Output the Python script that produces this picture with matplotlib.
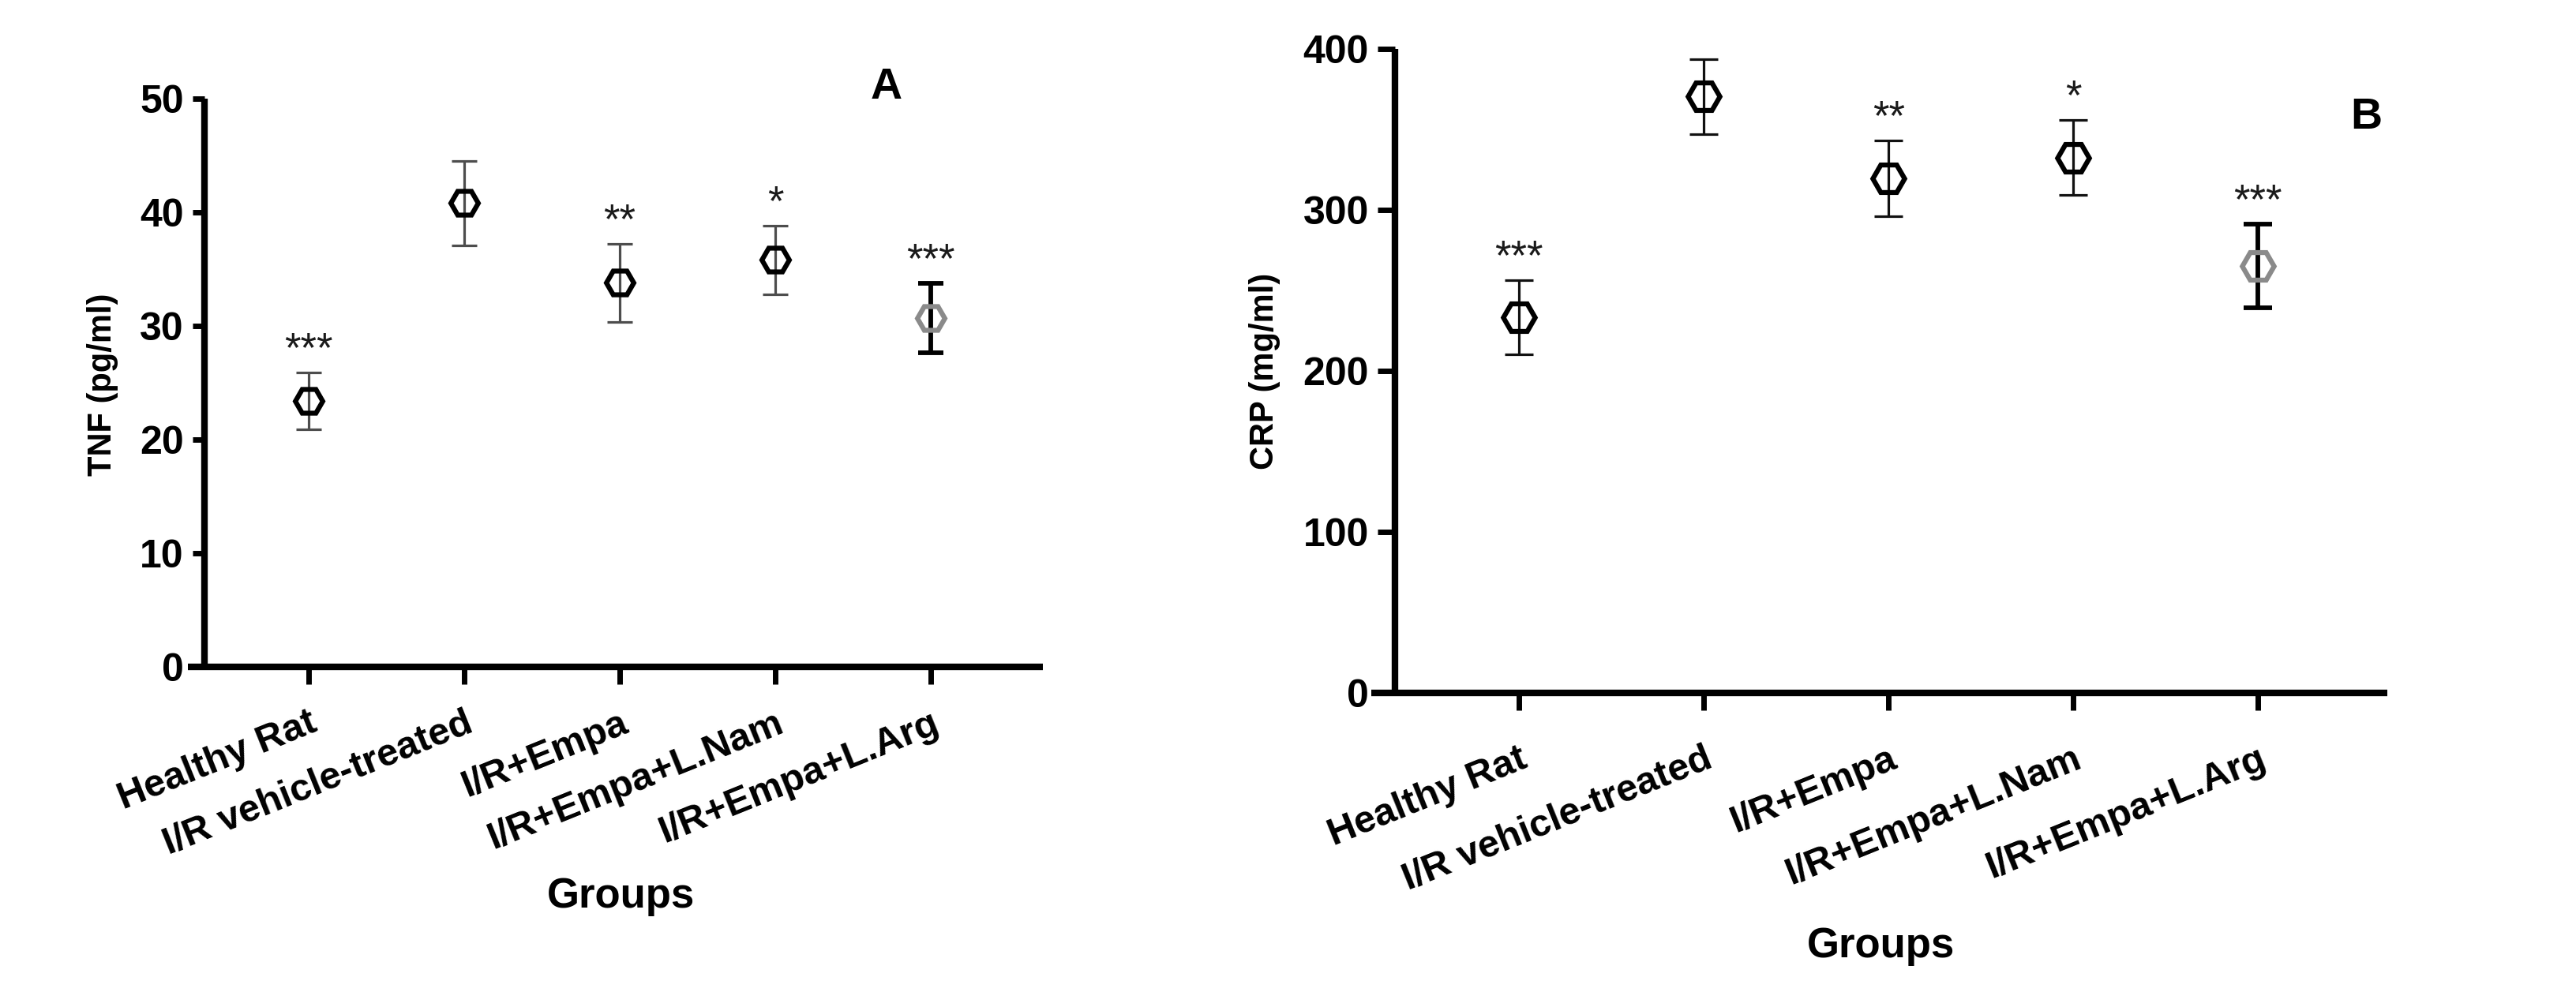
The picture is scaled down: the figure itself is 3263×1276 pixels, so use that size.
import matplotlib
matplotlib.use("Agg")
import matplotlib.pyplot as plt

plt.rcParams['font.family'] = ['Liberation Sans', 'DejaVu Sans']

groups = ["Healthy Rat", "I/R vehicle-treated", "I/R+Empa", "I/R+Empa+L.Nam", "I/R+Empa+L.Arg"]
tnf_mean = [23.4, 40.8, 33.8, 35.8, 30.7]
tnf_sem = [2.5, 3.7, 3.45, 3.0, 3.05]
crp_mean = [233.5, 370.5, 319.5, 332.5, 265.0]
crp_sem = [23.0, 23.3, 23.5, 23.2, 26.0]
stars = ["***", "", "**", "*", "***"]
tnf_ticks = [0, 10, 20, 30, 40, 50]
crp_ticks = [0, 100, 200, 300, 400]

W, H = 3263, 1276
fig = plt.figure(figsize=(W / 100, H / 100), dpi=100)


def panel(rect, means, sems, yticks, xlim, spine_x, ebcolor, ms, ytick_len, xpad,
          ylab, ylab_pos, letter, letter_pos, groups_pos):
    ax = fig.add_axes(rect)
    n = len(means)
    for i in range(n):
        last = (i == n - 1)
        lw = 4.2 if last else 2.3
        ax.errorbar(i, means[i], yerr=sems[i], fmt='none',
                    ecolor='black' if last else ebcolor,
                    elinewidth=lw, capsize=ms * 0.45, capthick=lw, zorder=2)
        ax.plot(i, means[i], marker='H', ms=ms, mfc='none',
                mec='#8a8a8a' if last else 'black', mew=4.5, zorder=3)
        if stars[i]:
            ax.annotate(stars[i], xy=(i, means[i] + sems[i]), xytext=(0, 10),
                        textcoords='offset points', ha='center', va='baseline',
                        fontsize=38, color='#1a1a1a')
    ax.set_xlim(*xlim)
    ax.set_ylim(yticks[0], yticks[-1])
    ax.spines['left'].set_position(('data', spine_x))
    ax.set_yticks(yticks)
    ax.set_yticklabels([str(t) for t in yticks], fontsize=36, fontweight='bold')
    ax.set_xticks(range(n))
    ax.set_xticklabels(groups, rotation=22, ha='right', va='top', rotation_mode='anchor',
                       fontsize=35, fontweight='bold')
    for s in ['top', 'right']:
        ax.spines[s].set_visible(False)
    for s in ['left', 'bottom']:
        ax.spines[s].set_linewidth(6)
        ax.spines[s].set_capstyle('butt')
    ax.tick_params(axis='y', length=ytick_len, width=5, pad=8)
    ax.tick_params(axis='x', length=16, width=5, pad=xpad)
    ax.patch.set_alpha(0)
    fig.text(ylab_pos[0], ylab_pos[1], ylab, rotation=90, ha='center', va='center',
             fontsize=30, fontweight='bold')
    fig.text(letter_pos[0], letter_pos[1], letter, ha='center', va='baseline',
             fontsize=40, fontweight='bold')
    fig.text(groups_pos[0], groups_pos[1], "Groups", ha='center', va='baseline',
             fontsize=38, fontweight='bold')
    return ax


panel([0.07294, 0.33777, 0.40484 - 0.07294, 0.90204 - 0.33777], tnf_mean, tnf_sem, tnf_ticks,
      (-0.777, 4.72), -0.670, '#4d4d4d', 25, 11, 19,
      "TNF (pg/ml)", (0.0398, 0.6183), "A", (0.3442, 0.9020), (0.2409, 0.0987))
panel([0.53233, 0.31191, 0.92675 - 0.53233, 0.95141 - 0.31191], crp_mean, crp_sem, crp_ticks,
      (-0.80, 4.70), -0.671, '#111111', 29, 16, 28,
      "CRP (mg/ml)", (0.4910, 0.6317), "B", (0.9185, 0.8723), (0.7303, 0.0494))

fig.savefig("out.png", dpi=100, facecolor='white')
